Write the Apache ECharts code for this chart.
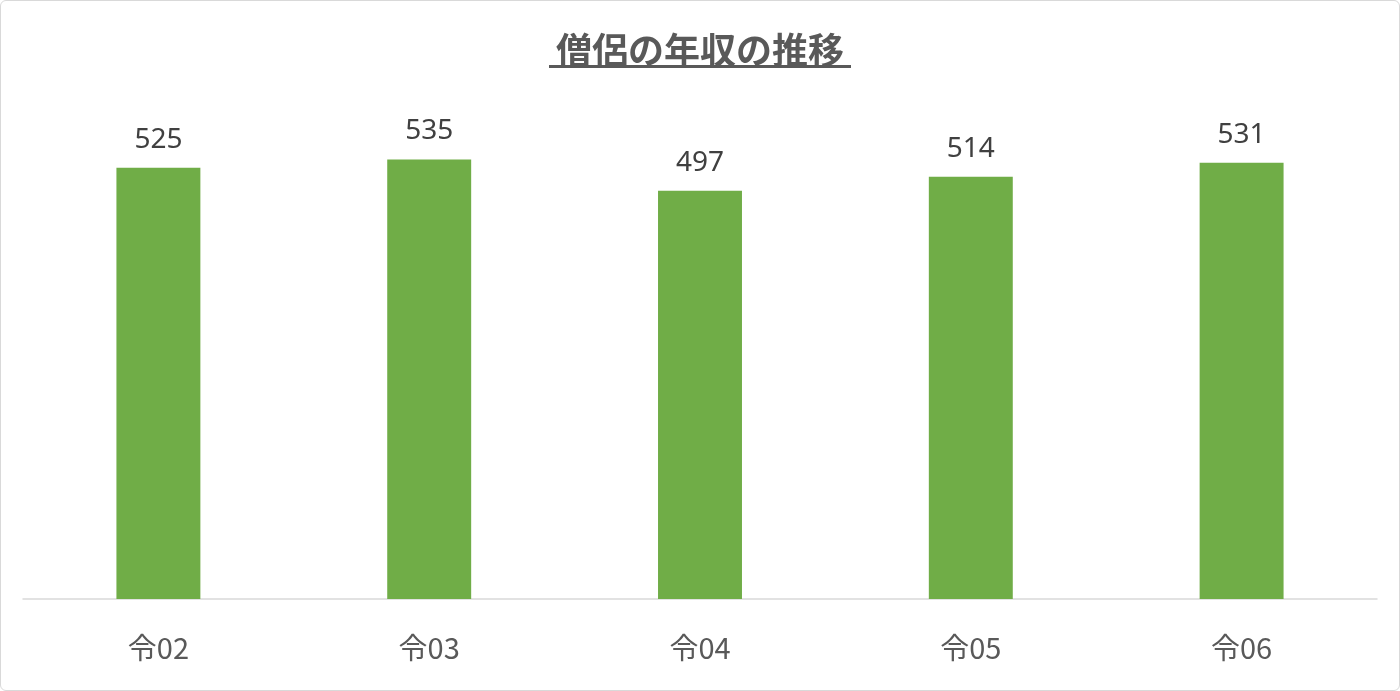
<!DOCTYPE html>
<html><head><meta charset="utf-8">
<script src="https://cdn.jsdelivr.net/npm/echarts@6/dist/echarts.min.js"></script>
<style>
html,body{margin:0;padding:0;background:#fff;}
#c{width:1398px;height:689px;border:1px solid #d9d9d9;border-radius:6px;}
</style></head>
<body><div id="c"></div>
<script>
const titleText = '僧侶の年収の推移';
const categories = ['令02','令03','令04','令05','令06'];
const values = [525, 535, 497, 514, 531];
const yMax = 600;

const chart = echarts.init(document.getElementById('c'));
chart.setOption({
  animation:false,
  title:{text:titleText,left:'center',top:24,
    textStyle:{fontFamily:'Noto Sans CJK JP',fontSize:36,fontWeight:'bold',color:'#595959',lineHeight:40}},
  graphic:[{type:'rect',left:'center',top:64,shape:{width:302,height:3},style:{fill:'#595959'}}],
  grid:{left:22,right:22,top:105,bottom:91},
  xAxis:{type:'category',data:categories,
    axisLine:{lineStyle:{color:'#d9d9d9',width:1.5}},axisTick:{show:false},
    axisLabel:{margin:34,fontSize:29,color:'#595959',fontFamily:'Noto Sans CJK JP'}},
  yAxis:{type:'value',min:0,max:yMax,show:false,splitLine:{show:false}},
  series:[{type:'bar',data:values,barWidth:'31%',itemStyle:{color:'#70AD47'},
    label:{show:true,position:'top',distance:14,fontSize:28,color:'#404040',fontFamily:'Noto Sans'}}]
});
</script></body></html>
